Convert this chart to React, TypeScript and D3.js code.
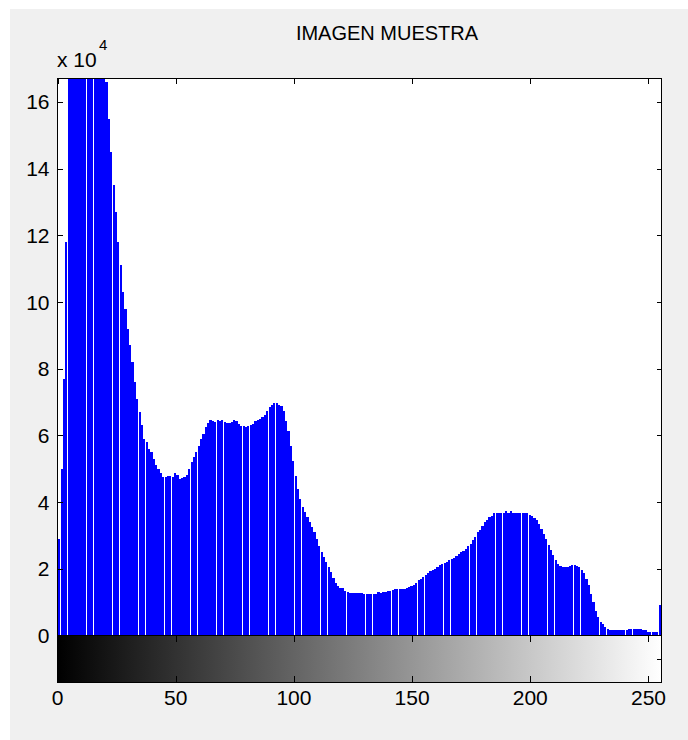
import React, { useEffect } from 'react';
import * as d3 from 'd3';

// imhist counts, in units of 10^4 (bins 0..255)
const counts = [
  1.4, 2.9, 5.0, 7.7, 11.8, 17.5, 19.5, 21, 22, 22.5, 23, 23, 22.5, 22, 21.5, 20.5,
  19.5, 18.5, 17.8, 17.3, 16.9, 16.6, 15.5, 14.5, 13.5, 12.7, 11.8, 11.1, 10.3, 9.8, 9.2, 8.7,
  8.2, 7.6, 7.1, 6.7, 6.3, 5.9, 5.8, 5.6, 5.5, 5.3, 5.1, 5.0, 4.86, 4.74, 4.76, 4.78,
  4.78, 4.74, 4.86, 4.8, 4.69, 4.71, 4.76, 4.8, 5.0, 5.2, 5.34, 5.49, 5.69, 5.89, 6.04, 6.24,
  6.36, 6.46, 6.42, 6.39, 6.46, 6.42, 6.46, 6.39, 6.36, 6.36, 6.39, 6.46, 6.42, 6.34, 6.29, 6.29,
  6.26, 6.29, 6.3, 6.34, 6.42, 6.46, 6.49, 6.54, 6.62, 6.74, 6.84, 6.92, 6.96, 6.96, 6.92, 6.89,
  6.74, 6.44, 6.12, 5.69, 5.24, 4.79, 4.39, 4.09, 3.84, 3.69, 3.54, 3.39, 3.24, 3.09, 2.9, 2.69,
  2.51, 2.34, 2.19, 2.04, 1.9, 1.73, 1.57, 1.47, 1.43, 1.41, 1.33, 1.3, 1.27, 1.27, 1.27, 1.27,
  1.27, 1.27, 1.25, 1.24, 1.23, 1.23, 1.25, 1.25, 1.29, 1.27, 1.29, 1.29, 1.32, 1.34, 1.35, 1.38,
  1.4, 1.4, 1.4, 1.4, 1.41, 1.45, 1.47, 1.5, 1.57, 1.65, 1.7, 1.75, 1.82, 1.87, 1.93, 1.97,
  2.0, 2.05, 2.1, 2.15, 2.18, 2.2, 2.25, 2.28, 2.32, 2.38, 2.45, 2.5, 2.54, 2.6, 2.67, 2.74,
  2.86, 2.96, 3.09, 3.16, 3.29, 3.39, 3.46, 3.54, 3.59, 3.66, 3.66, 3.66, 3.66, 3.66, 3.72, 3.66,
  3.72, 3.66, 3.66, 3.66, 3.66, 3.66, 3.66, 3.66, 3.62, 3.59, 3.52, 3.46, 3.34, 3.19, 3.04, 2.89,
  2.72, 2.56, 2.4, 2.25, 2.13, 2.07, 2.04, 2.04, 2.04, 2.07, 2.1, 2.1, 2.07, 2.04, 1.97, 1.87,
  1.7, 1.5, 1.25, 1.0, 0.73, 0.55, 0.4, 0.33, 0.25, 0.2, 0.17, 0.15, 0.15, 0.15, 0.15, 0.15,
  0.15, 0.17, 0.19, 0.19, 0.19, 0.19, 0.19, 0.19, 0.17, 0.15, 0.1, 0.1, 0.1, 0.1, 0.1, 0.9,
];

const xTicks = [0, 50, 100, 150, 200, 250];
const yTicks = [0, 2, 4, 6, 8, 10, 12, 14, 16];
const title = 'IMAGEN MUESTRA';

const W = 688;
const H = 740;
const font = 'Liberation Sans, Arial, sans-serif';

export default function App() {
  useEffect(() => {
    document.body.style.margin = '0';
  }, []);

  // plot area (stem axes) and the gray-level bar below it
  const left = 57.5, right = 661.5, top = 78.5, zeroY = 635.5, barBottom = 682.5;

  const x = d3.scaleLinear().domain([0, 255.5]).range([left, right]);
  const y = d3.scaleLinear().domain([0, 16.7]).range([zeroY, top]);
  const bw = x(1) - x(0);

  const bins = counts.map((v, i) => {
    // snap each stem to whole pixels, like the screen capture
    const x0 = Math.floor(x(i) - bw / 2);
    const x1 = Math.floor(x(i) - bw / 2 + bw * 0.924);
    return { i, v, x0, w: Math.max(1, x1 - x0) };
  });

  const tickLen = 5;

  return (
    <svg width={W} height={H} style={{ display: 'block', fontFamily: font }}>
      <defs>
        <clipPath id="plotClip">
          <rect x={left} y={top} width={right - left} height={zeroY - top} />
        </clipPath>
        <linearGradient id="grayBar" x1={left} x2={right} y1={0} y2={0} gradientUnits="userSpaceOnUse">
          <stop offset="0" stopColor="#000" />
          <stop offset="1" stopColor="#fff" />
        </linearGradient>
      </defs>

      <rect x={0} y={0} width={W} height={H} fill="#fff" />
      <rect x={10} y={9} width={W - 10} height={H - 9} fill="#f0f0f0" />

      {/* title */}
      <text x={387} y={40} textAnchor="middle" fontSize={20} fill="#000">{title}</text>

      {/* exponent label */}
      <text x={57} y={67} fontSize={21} fill="#000">x 10</text>
      <text x={99} y={50} fontSize={15} fill="#000">4</text>

      {/* stem axes */}
      <rect x={left} y={top} width={right - left} height={zeroY - top} fill="#fff" />

      <g clipPath="url(#plotClip)" shapeRendering="crispEdges">
        {bins.map((b) => (
          <rect key={b.i} x={b.x0} y={y(b.v)} width={b.w} height={zeroY - y(b.v)} fill="#0000ff" />
        ))}
      </g>

      <g stroke="#000" strokeWidth={1} shapeRendering="crispEdges" fill="none">
        <rect x={left} y={top} width={right - left} height={zeroY - top} />
        {yTicks.map((t) => (
          <g key={'yt' + t}>
            <line x1={left} x2={left + tickLen} y1={Math.round(y(t)) + 0.5} y2={Math.round(y(t)) + 0.5} />
            <line x1={right - tickLen} x2={right} y1={Math.round(y(t)) + 0.5} y2={Math.round(y(t)) + 0.5} />
          </g>
        ))}
        {xTicks.map((t) => (
          <line key={'xt' + t} x1={Math.round(x(t)) + 0.5} x2={Math.round(x(t)) + 0.5} y1={top} y2={top + tickLen} />
        ))}
      </g>

      {/* gray-level bar */}
      <rect x={left} y={zeroY} width={right - left} height={barBottom - zeroY} fill="url(#grayBar)" />
      <g stroke="#000" strokeWidth={1} shapeRendering="crispEdges" fill="none">
        <rect x={left} y={zeroY} width={right - left} height={barBottom - zeroY} />
        {xTicks.map((t) => (
          <g key={'bt' + t}>
            <line x1={Math.round(x(t)) + 0.5} x2={Math.round(x(t)) + 0.5} y1={zeroY} y2={zeroY + tickLen + 1} />
            <line x1={Math.round(x(t)) + 0.5} x2={Math.round(x(t)) + 0.5} y1={barBottom - tickLen - 2} y2={barBottom} />
          </g>
        ))}
        <line x1={right - tickLen} x2={right} y1={Math.round((zeroY + barBottom) / 2) + 0.5} y2={Math.round((zeroY + barBottom) / 2) + 0.5} />
      </g>

      {/* tick labels */}
      <g fontSize={21} fill="#000">
        {yTicks.map((t) => (
          <text key={'yl' + t} x={left - 8} y={y(t)} dy="0.36em" textAnchor="end">{t}</text>
        ))}
        {xTicks.map((t) => (
          <text key={'xl' + t} x={x(t)} y={705} textAnchor="middle">{t}</text>
        ))}
      </g>
    </svg>
  );
}
